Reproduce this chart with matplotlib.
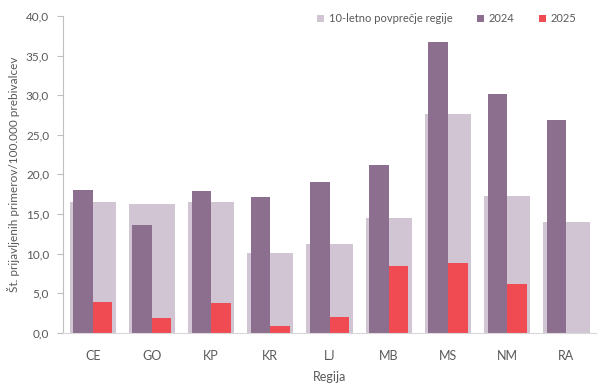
#!/usr/bin/env python3

import matplotlib.pyplot as plt
import numpy as np

# ============================================================
# DATA
# ============================================================

regions = ["CE", "GO", "KP", "KR", "LJ", "MB", "MS", "NM", "RA"]
avg_10y = [16.5, 16.3, 16.5, 10.1, 11.2, 14.5, 27.6, 17.3, 14.0]
y2024 = [18.0, 13.6, 17.9, 17.2, 19.1, 21.2, 36.7, 30.2, 26.9]
y2025 = [3.9, 1.9, 3.8, 0.9, 2.0, 8.4, 8.8, 6.2, 0.0]
yticks = [0, 5, 10, 15, 20, 25, 30, 35, 40]

# ============================================================
# PLOT
# ============================================================

plt.rcParams["font.family"] = ["Lato", "DejaVu Sans"]
text_color = "#595959"

fig = plt.figure(figsize=(6.12, 3.88), dpi=100)
ax = fig.add_axes([0.103, 0.142, 0.871, 0.817])

x = np.arange(len(regions))
w = 0.33

ax.bar(x, avg_10y, width=0.78, color="#d1c5d3", label="10-letno povprečje regije", zorder=1)
ax.bar(x - w / 2, y2024, width=w, color="#8c6f8e", label="2024", zorder=2)
ax.bar(x + w / 2, y2025, width=w, color="#f04a52", label="2025", zorder=2)

ax.set_xlim(-0.5, len(regions) - 0.5)
ax.set_ylim(0, 40)
ax.set_yticks(yticks)
ax.set_yticklabels([f"{v:.1f}".replace(".", ",") for v in yticks])
ax.set_xticks(x)
ax.set_xticklabels(regions)

for s in ["top", "right"]:
    ax.spines[s].set_visible(False)
ax.spines["left"].set_color("#bfbfbf")
ax.spines["bottom"].set_color("#d9d9d9")
ax.tick_params(axis="y", colors="#bfbfbf", labelcolor=text_color, labelsize=8.5, length=4, pad=6)
ax.tick_params(axis="x", length=0, labelcolor=text_color, labelsize=9, pad=12)

ax.set_ylabel("Št. prijavljenih primerov/100.000 prebivalcev", color=text_color, fontsize=8.5, labelpad=4)
ax.set_xlabel("Regija", color=text_color, fontsize=9, labelpad=7)

leg = ax.legend(
    loc="center right",
    bbox_to_anchor=(586 / 612, 1 - 19 / 388),
    bbox_transform=fig.transFigure,
    ncol=3,
    frameon=False,
    fontsize=8,
    handlelength=0.65,
    handleheight=0.65,
    handletextpad=0.4,
    columnspacing=2.2,
)
for t in leg.get_texts():
    t.set_color(text_color)

fig.savefig("out.png", dpi=100)
